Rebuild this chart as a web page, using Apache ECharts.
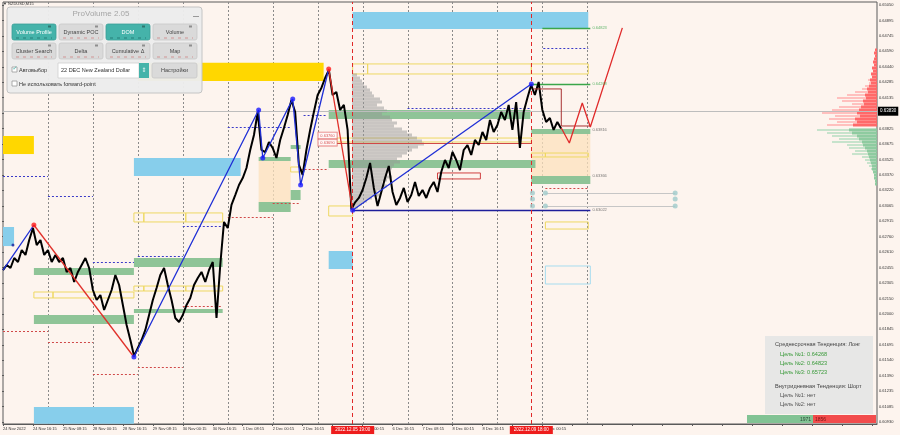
<!DOCTYPE html>
<html><head><meta charset="utf-8">
<script src="https://cdn.jsdelivr.net/npm/echarts/dist/echarts.min.js"></script>
<style>html,body{margin:0;padding:0;background:#fdf4ee;}#c{width:900px;height:435px;}</style>
</head><body><div id="c"></div>
<script>
// ---------------- DATA ----------------
const STEP_HOURS = 2; // price samples every 2 trading hours from 24 Nov 00:00
const price = [0.62431,0.62481,0.62451,0.62550,0.62510,0.62629,0.62580,0.62728,0.62846,0.62678,
0.62728,0.62580,0.62629,0.62510,0.62580,0.62510,0.62550,0.62412,0.62451,0.62313,
0.62412,0.62481,0.62550,0.62451,0.62234,0.62135,0.62184,0.62036,0.62135,0.62234,
0.62382,0.62283,0.62086,0.61888,0.61740,0.61582,0.61661,0.61740,0.61839,0.61987,
0.62135,0.62254,0.62382,0.62451,0.62283,0.62135,0.61957,0.61918,0.61987,0.62086,
0.62155,0.62283,0.62352,0.62412,0.62313,0.62431,0.62510,0.61957,0.62481,0.62906,
0.62846,0.63074,0.63172,0.63271,0.63340,0.63439,0.63617,0.63765,0.63992,0.63617,
0.63597,0.63696,0.63637,0.63538,0.63716,0.63834,0.63963,0.64111,0.63992,0.63469,
0.63370,0.63617,0.63815,0.63992,0.64160,0.64230,0.64328,0.64407,0.64160,0.64190,
0.64012,0.64062,0.63815,0.63030,0.63100,0.63143,0.63222,0.63340,0.63489,0.63242,
0.63064,0.63202,0.63340,0.63459,0.63202,0.63074,0.63143,0.63242,0.63103,0.63172,
0.63301,0.63163,0.63222,0.63143,0.63242,0.63301,0.63202,0.63400,0.63518,0.63439,
0.63597,0.63518,0.63419,0.63617,0.63666,0.63568,0.63716,0.63666,0.63795,0.63716,
0.63913,0.63795,0.63864,0.63992,0.63913,0.64062,0.63815,0.64091,0.63637,0.63992,
0.64131,0.64260,0.64160,0.64289,0.64012,0.63894,0.63933,0.63815,0.63894,0.63830];
const currentPrice = 0.63830;

const xLabels = ['24 Nov 2022','24 Nov 16:15','25 Nov 08:15','28 Nov 00:15','28 Nov 16:15','29 Nov 08:15',
 '30 Nov 00:15','30 Nov 16:15','1 Dec 08:15','2 Dec 00:15','2 Dec 16:15','5 Dec 08:15','6 Dec 00:15',
 '6 Dec 16:15','7 Dec 08:15','8 Dec 00:15','8 Dec 16:15','9 Dec 08:15','12 Dec 00:15'];
const yLabels = ['0.60930','0.61085','0.61235','0.61390','0.61540','0.61695','0.61845','0.62000','0.62150',
 '0.62305','0.62455','0.62610','0.62760','0.62915','0.63065','0.63220','0.63370','0.63525','0.63675',
 '0.63825','0.63980','0.64135','0.64285','0.64440','0.64590','0.64745','0.64895','0.65050'];
const gridHours = [24,48,72,96,120,144,168,192,216,240,264,288,312];
const sessionMarks = [[186.7,'2022.12.05 19:00'],[282.1,'2022.12.09 18:00']];

const blueZig1 = [[0,0.62431],[16.5,0.62876]];
const redZig1 = [[16.5,0.62876],[69.9,0.61572]];
const blueZig2 = [[69.9,0.61572],[136.5,0.64012],[138.7,0.63538],[154.7,0.64121],[158.9,0.63271],[173.9,0.64417]];
const redZig2 = [[173.9,0.64417],[186.7,0.63022]];
const blueZig3 = [[186.7,0.63022],[282.1,0.64268]];
const redPivots = [[16.5,0.62876],[173.9,0.64417]];
const bluePivots = [[69.9,0.61572],[136.5,0.64012],[138.7,0.63538],[154.7,0.64121],[158.9,0.63271],[186.7,0.63022],[282.1,0.64268]];
const smallPivots = [[5.3,0.62678]];
const forecast = [[298.1,0.63834],[302.4,0.63686],[309.3,0.64081],[313.6,0.63844],[330.7,0.64823]];
const stepLine = [[283.2,0.64220],[298.1,0.64220],[298.1,0.63854],[313.6,0.63854]];

// zones: [fromHour, toHour, priceA, priceB]
const blueZones = [[186.7,312.5,0.64980,0.64812],[69.9,126.9,0.63538,0.63360],[0,5.9,0.62856,0.62668],
 [173.9,186.7,0.62619,0.62441],[16.5,69.9,0.61078,0.60912]];
const goldZones = [[0,16.5,0.63755,0.63577],[72,171.2,0.64478,0.64299]];
const greenZones = [[16.5,69.9,0.62451,0.62382],[16.5,69.9,0.61987,0.61898],[69.9,117.3,0.62550,0.62461],
 [69.9,117.3,0.62046,0.62007],[136.5,153.6,0.63548,0.63508],[136.5,153.6,0.63103,0.63004],
 [153.6,158.9,0.63666,0.63627],[153.6,158.9,0.63222,0.63123],[173.9,281.6,0.64012,0.63923],
 [173.9,284.3,0.63518,0.63439],[282.1,313.6,0.63824,0.63775],[282.1,313.6,0.63360,0.63281]];
const tanZones = [[136.5,153.6,0.63508,0.63103],[282.1,313.6,0.63775,0.63360]];
const yellowBoxes = [[16.5,26.7,0.62214,0.62155],[26.7,69.9,0.62214,0.62155],
 [69.9,75.2,0.62273,0.62224],[75.2,97.6,0.62273,0.62224],[97.6,117.3,0.62273,0.62224],
 [69.9,75.2,0.62995,0.62906],[75.2,97.6,0.62995,0.62906],[97.6,117.3,0.62995,0.62906],
 [153.6,158.9,0.63449,0.63400],[186.7,194.7,0.64467,0.64368],[194.7,282.1,0.64467,0.64368],
 [282.1,312.5,0.64467,0.64368],[178.1,282.1,0.63735,0.63696],[173.9,186.7,0.63064,0.62965],
 [282.1,289.6,0.63587,0.63548],[289.6,312.5,0.63587,0.63548],[289.6,312.5,0.62906,0.62836]];
const lightBlueBoxes = [[289.6,313.6,0.62471,0.62293]];
const redBoxes = [[232,254.9,0.63390,0.63331]];

// horizontal levels: [fromHour, toHour, price]
const blueDotted = [[0,24,0.63360],[24,48,0.63163],[48,69.9,0.62510],[72,96,0.62570],[96,117.3,0.62866],
 [120,153.6,0.63844],[160.5,172.3,0.63963],[216,281.6,0.64032],[288.5,312.5,0.64625]];
const redDotted = [[0,24,0.61829],[24,48,0.61720],[48,72,0.61404],[72,96,0.61473],[96,117.3,0.62076],
 [120,144,0.62955],[144,158.9,0.63093],[158.9,173.9,0.63429],[289.6,312.5,0.63242]];
const redSolid = [[178.1,282.1,0.63686]];
const navySolid = [[186.7,313.6,0.63022]];
const greenTargets = [[282.1,313.6,0.64268],[288,313.6,0.64823]];
const graySolid = [[289.6,358.9,0.63192],[289.6,358.9,0.63064]];
const circles = [[282.7,0.63192],[282.7,0.63133],[282.7,0.63064],[289.6,0.63192],[289.6,0.63064],
 [358.9,0.63192],[358.9,0.63133],[358.9,0.63064]];
const greenTags = [[314.7,0.64823],[314.7,0.64268]];
const grayTags = [[314.7,0.63816],[314.7,0.63366],[314.7,0.63022]];
const redTags = [[173.3,0.63760,'0.63760'],[173.3,0.63690,'0.63690']];

// session volume profile (grey): price, volume
const profPrices = [0.64358,0.64328,0.64299,0.64269,0.64239,0.64210,0.64180,0.64151,0.64121,0.64091,
 0.64062,0.64032,0.64002,0.63973,0.63943,0.63913,0.63884,0.63854,0.63824,0.63795,0.63765,0.63735,
 0.63706,0.63676,0.63646,0.63617,0.63587,0.63557,0.63528,0.63498,0.63469,0.63439,0.63409,0.63380,
 0.63350,0.63321,0.63291,0.63261,0.63232,0.63202,0.63172,0.63143,0.63113,0.63084,0.63054];
const profVols = [5,8,10,12,15,18,20,22,28,30,25,32,35,30,38,40,45,42,50,55,60,65,70,72,66,60,55,50,
 45,48,42,40,38,35,40,35,30,35,30,25,28,20,15,10,6];

// DOM ladder: price, strong size, weak size
const askPrices = [0.64605,0.64575,0.64546,0.64516,0.64486,0.64457,0.64427,0.64397,0.64368,0.64338,
 0.64309,0.64279,0.64249,0.64220,0.64190,0.64160,0.64131,0.64101,0.64071,0.64042,0.64012,0.63983,
 0.63953,0.63923,0.63894,0.63864];
const askStrong = [2,3,2,3,4,3,5,4,6,5,7,6,8,10,9,12,11,14,13,16,18,20,17,22,20,24];
const askWeak = [2,3,2,3,4,3,5,4,6,5,9,8,12,15,22,30,40,35,25,38,45,55,42,48,40,50];
const bidPrices = [0.63815,0.63785,0.63755,0.63726,0.63696,0.63666,0.63637,0.63607,0.63577,0.63548,
 0.63518,0.63489,0.63459,0.63429,0.63400,0.63370,0.63340,0.63310,0.63281];
const bidStrong = [28,25,20,18,15,14,12,10,9,8,7,6,5,5,4,3,3,2,2];
const bidWeak = [60,50,45,38,45,30,28,22,25,15,12,10,8,6,4,3,3,2,2];

const buyVolume = 1971, sellVolume = 1856;

// ---------------- CHART ----------------
const FONT = 'Liberation Sans';
const chart = echarts.init(document.getElementById('c'), null, {renderer:'canvas'});
const YMIN = 0.60910, YMAX = 0.65079, XMAX = 466.67;

function rectSeries(name, data, style, z){
  return {type:'custom', name, z, silent:true, clip:true, data, xAxisIndex:0, yAxisIndex:0,
    encode:{x:[0,1], y:[2,3]},
    renderItem:(params, api)=>{
      const a = api.coord([api.value(0), api.value(2)]);
      const b = api.coord([api.value(1), api.value(3)]);
      return {type:'rect', shape:{x:Math.min(a[0],b[0]), y:Math.min(a[1],b[1]),
        width:Math.abs(b[0]-a[0]), height:Math.abs(b[1]-a[1])}, style:Object.assign({}, style)};
    }};
}
function segSeries(name, data, style, z){
  return {type:'custom', name, z, silent:true, clip:true, data, xAxisIndex:0, yAxisIndex:0,
    encode:{x:[0,1], y:2},
    renderItem:(params, api)=>{
      const a = api.coord([api.value(0), api.value(2)]);
      const b = api.coord([api.value(1), api.value(2)]);
      return {type:'line', shape:{x1:a[0], y1:Math.round(a[1])+0.5, x2:b[0], y2:Math.round(b[1])+0.5},
        style:Object.assign({fill:null}, style)};
    }};
}
function lineSeries(name, data, color, width, z){
  return {type:'line', name, data, z, symbol:'none', silent:true, animation:false,
    lineStyle:{color, width}, xAxisIndex:0, yAxisIndex:0};
}
function domSeries(name, prices, strong, weak, cStrong, cWeak){
  return {type:'custom', name, z:3, silent:true, xAxisIndex:2, yAxisIndex:2,
    data: prices.map((p,i)=>[p, strong[i], weak[i]]),
    encode:{x:[1,2], y:0},
    renderItem:(params, api)=>{
      const p = api.value(0);
      const r = api.coord([0,p]);
      const w = api.coord([api.value(2),p]);
      const s = api.coord([api.value(1),p]);
      return {type:'group', children:[
        {type:'rect', shape:{x:w[0], y:r[1]-1, width:r[0]-w[0], height:2}, style:{fill:cWeak}},
        {type:'rect', shape:{x:s[0], y:r[1]-1.5, width:r[0]-s[0], height:3}, style:{fill:cStrong}}
      ]};
    }};
}

const priceData = price.map((p,i)=>[i*STEP_HOURS, p]);

const series = [
  {type:'custom', name:'grid', z:1, silent:true, data:gridHours, xAxisIndex:0, yAxisIndex:0,
   encode:{x:0},
   renderItem:(params, api)=>{
     const cs = params.coordSys;
     const x = Math.round(api.coord([api.value(0), YMIN])[0])+0.5;
     return {type:'line', shape:{x1:x, y1:cs.y, x2:x, y2:cs.y+cs.height},
       style:{stroke:'#8a8a8a', lineWidth:1, lineDash:[2,2]}};
   }},
  rectSeries('tan', tanZones, {fill:'rgba(252,226,188,0.75)'}, 2),
  rectSeries('blue', blueZones, {fill:'#87ceeb'}, 2),
  rectSeries('gold', goldZones, {fill:'#ffd700'}, 2),
  rectSeries('green', greenZones, {fill:'#8fc497'}, 2),
  rectSeries('yellowBox', yellowBoxes, {fill:null, stroke:'#eed862', lineWidth:1}, 3),
  rectSeries('lightBlueBox', lightBlueBoxes, {fill:null, stroke:'#a6dcef', lineWidth:1}, 3),
  rectSeries('redBox', redBoxes, {fill:null, stroke:'#d04040', lineWidth:1}, 3),
  {type:'custom', name:'profile', z:3, silent:true, xAxisIndex:3, yAxisIndex:3,
   data: profPrices.map((p,i)=>[p, profVols[i]]), encode:{x:1, y:0},
   renderItem:(params, api)=>{
     const a = api.coord([0, api.value(0)]);
     const b = api.coord([api.value(1), api.value(0)]);
     return {type:'rect', shape:{x:a[0], y:a[1]-1.5, width:b[0]-a[0], height:3},
       style:{fill:'rgba(150,150,150,0.5)'}};
   }},
  domSeries('ask', askPrices, askStrong, askWeak, 'rgba(255,95,95,0.9)', 'rgba(255,170,170,0.7)'),
  domSeries('bid', bidPrices, bidStrong, bidWeak, 'rgba(135,200,155,0.9)', 'rgba(175,220,190,0.7)'),
  segSeries('blueDotted', blueDotted, {stroke:'#3a3ac8', lineWidth:1, lineDash:[2,2]}, 4),
  segSeries('redDotted', redDotted, {stroke:'#d04848', lineWidth:1, lineDash:[2,2]}, 4),
  segSeries('grayLevels', graySolid, {stroke:'#c6c6c6', lineWidth:1}, 4),
  segSeries('redSolid', redSolid, {stroke:'#d04848', lineWidth:1}, 4),
  segSeries('navy', navySolid, {stroke:'#1e1e9a', lineWidth:1.3}, 4),
  segSeries('targets', greenTargets, {stroke:'#3aa64a', lineWidth:1.3}, 4),
  {type:'line', name:'price', data:priceData, z:5, symbol:'none', silent:true,
   lineStyle:{color:'#000', width:2}, xAxisIndex:0, yAxisIndex:0,
   markLine:{silent:true, symbol:['none','none'], animation:false,
     data:[
       {yAxis:currentPrice, lineStyle:{color:'#bdbdbd', type:'solid', width:1},
        label:{show:true, position:'end', formatter:currentPrice.toFixed(5), backgroundColor:'#000',
          color:'#fff', fontSize:4.5, fontFamily:FONT, padding:[2,2], distance:1}},
       ...sessionMarks.map(m=>({xAxis:m[0], lineStyle:{color:'#e02828', type:[4,3], width:1},
        label:{show:true, position:'start', formatter:m[1], backgroundColor:'#ee1c1c', color:'#fff',
          fontSize:4.5, fontFamily:FONT, padding:[1.5,4], distance:2}}))
     ]}},
  lineSeries('stepBox', stepLine, '#a83232', 1, 5),
  lineSeries('blueZig1', blueZig1, '#1f2fd6', 1.3, 6),
  lineSeries('redZig1', redZig1, '#e0302a', 1.3, 6),
  lineSeries('blueZig2', blueZig2, '#1f2fd6', 1.3, 6),
  lineSeries('redZig2', redZig2, '#e0302a', 1.3, 6),
  lineSeries('blueZig3', blueZig3, '#1f2fd6', 1.3, 6),
  lineSeries('forecast', forecast, '#e02a2a', 1.3, 6),
  {type:'scatter', name:'redPivots', data:redPivots, z:7, symbolSize:5, itemStyle:{color:'#ff1a1a'}, silent:true},
  {type:'scatter', name:'bluePivots', data:bluePivots, z:7, symbolSize:5, itemStyle:{color:'#1a1aff'}, silent:true},
  {type:'scatter', name:'smallPivots', data:smallPivots, z:7, symbolSize:3, itemStyle:{color:'#1a1a9a'}, silent:true},
  {type:'scatter', name:'circles', data:circles, z:7, symbolSize:5, itemStyle:{color:'#9fcaca'}, silent:true},
  {type:'scatter', name:'greenTags', data:greenTags, z:8, symbolSize:0, silent:true,
   label:{show:true, position:'right', distance:0, formatter:p=>p.value[1].toFixed(5), color:'#3aa64a', fontSize:4, fontFamily:FONT}},
  {type:'scatter', name:'grayTags', data:grayTags, z:8, symbolSize:0, silent:true,
   label:{show:true, position:'right', distance:0, formatter:p=>p.value[1].toFixed(5), color:'#555', fontSize:4, fontFamily:FONT}},
  {type:'scatter', name:'redTags', data:redTags, z:8, symbolSize:0, silent:true,
   label:{show:true, position:'inside', formatter:p=>p.value[2], color:'#d02020', fontSize:4, fontFamily:FONT,
     backgroundColor:'#fff', borderColor:'#e06060', borderWidth:0.8, padding:[1,2]}}
];

// ---- panel / info graphics ----
const TEAL = '#45b3aa';
const graphic = [];
graphic.push({type:'text', z:50, style:{x:3, y:4, text:'▼ NZDUSD,M15', fill:'#333', fontSize:4, fontFamily:FONT, verticalAlign:'middle'}});
graphic.push({type:'rect', z:90, shape:{x:7, y:7, width:195, height:86, r:3}, style:{fill:'rgba(236,236,236,0.97)', stroke:'#c4c4c4', lineWidth:1}});
graphic.push({type:'text', z:91, style:{x:101, y:14, text:'ProVolume 2.05', fill:'#a5a5a5', fontSize:8, fontFamily:FONT, align:'center', verticalAlign:'middle'}});
graphic.push({type:'line', z:91, shape:{x1:193, y1:16.5, x2:199, y2:16.5}, style:{stroke:'#999', lineWidth:1}});
const btns = [['Volume Profile',12,24,true],['Dynamic POC',59,24,false],['DOM',106,24,true],['Volume',153,24,false],
 ['Cluster Search',12,43,false],['Delta',59,43,false],['Cumulative Δ',106,43,false],['Map',153,43,false]];
btns.forEach(b=>{
  const [t,x,y,on] = b;
  graphic.push({type:'rect', z:91, shape:{x, y, width:44, height:16, r:2},
    style:{fill:on?TEAL:'#dadada', stroke:on?'#3a9f97':'#c8c8c8', lineWidth:0.8}});
  graphic.push({type:'text', z:92, style:{x:x+22, y:y+8.5, text:t, fill:on?'#fff':'#444', fontSize:5.5, fontFamily:FONT, align:'center', verticalAlign:'middle'}});
  graphic.push({type:'line', z:92, shape:{x1:x+4, y1:y+14, x2:x+40, y2:y+14}, style:{stroke:on?'rgba(0,60,60,0.45)':'rgba(200,80,80,0.5)', lineWidth:1, lineDash:[3,4]}});
  graphic.push({type:'rect', z:92, shape:{x:x+36, y:y+1.5, width:3, height:2}, style:{fill:'rgba(0,0,0,0.35)'}});
});
graphic.push({type:'rect', z:91, shape:{x:12, y:67, width:5, height:5}, style:{fill:'#fff', stroke:'#999', lineWidth:0.8}});
graphic.push({type:'text', z:92, style:{x:12.5, y:68.5, text:'✓', fill:TEAL, fontSize:6, fontFamily:'DejaVu Sans', verticalAlign:'middle'}});
graphic.push({type:'text', z:92, style:{x:19, y:70, text:'Автовыбор', fill:'#333', fontSize:5.5, fontFamily:FONT, verticalAlign:'middle'}});
graphic.push({type:'rect', z:91, shape:{x:58, y:63, width:81, height:15}, style:{fill:'#fff', stroke:'#cfcfcf', lineWidth:0.8}});
graphic.push({type:'text', z:92, style:{x:61, y:70.5, text:'22 DEC New Zealand Dollar', fill:'#333', fontSize:5.5, fontFamily:FONT, verticalAlign:'middle'}});
graphic.push({type:'rect', z:91, shape:{x:139, y:63, width:10, height:15}, style:{fill:TEAL}});
graphic.push({type:'text', z:92, style:{x:144, y:70.5, text:'⇕', fill:'#e8f6f5', fontSize:6, fontFamily:'DejaVu Sans', align:'center', verticalAlign:'middle'}});
graphic.push({type:'rect', z:91, shape:{x:152, y:63, width:45, height:15, r:2}, style:{fill:'#dadada', stroke:'#c8c8c8', lineWidth:0.8}});
graphic.push({type:'text', z:92, style:{x:174.5, y:70.5, text:'Настройки', fill:'#444', fontSize:5.5, fontFamily:FONT, align:'center', verticalAlign:'middle'}});
graphic.push({type:'rect', z:91, shape:{x:12, y:81, width:5, height:5}, style:{fill:'#fff', stroke:'#999', lineWidth:0.8}});
graphic.push({type:'text', z:92, style:{x:19, y:84, text:'Не использовать forward-point', fill:'#333', fontSize:5.5, fontFamily:FONT, verticalAlign:'middle'}});

// info box
graphic.push({type:'rect', z:90, shape:{x:765, y:336, width:108, height:78}, style:{fill:'rgba(229,229,229,0.93)'}});
const info = [['Среднесрочная Тенденция: Лонг',775,344,'#444'],['Цель №1: 0.64268',780,354,'#3a9a3a'],
 ['Цель №2: 0.64823',780,363,'#3a9a3a'],['Цель №3: 0.65723',780,372,'#3a9a3a'],
 ['Внутридневная Тенденция: Шорт',775,386,'#444'],['Цель №1: нет',780,395,'#555'],['Цель №2: нет',780,404,'#555']];
info.forEach(t=>graphic.push({type:'text', z:91, style:{x:t[1], y:t[2], text:t[0], fill:t[3], fontSize:5.6, fontFamily:FONT, verticalAlign:'middle'}}));
// buy / sell volume bar
const barTotal = buyVolume + sellVolume, barX = 747, barW = 129;
const buyW = Math.round(barW * buyVolume / barTotal);
graphic.push({type:'rect', z:90, shape:{x:barX, y:415, width:buyW, height:8}, style:{fill:'#82c394'}});
graphic.push({type:'rect', z:90, shape:{x:barX+buyW, y:415, width:barW-buyW, height:8}, style:{fill:'#f24c4c'}});
graphic.push({type:'text', z:91, style:{x:barX+buyW-2, y:419.5, text:String(buyVolume), fill:'#2d4a35', fontSize:5, fontFamily:FONT, align:'right', verticalAlign:'middle'}});
graphic.push({type:'text', z:91, style:{x:barX+buyW+2, y:419.5, text:String(sellVolume), fill:'#7a1414', fontSize:5, fontFamily:FONT, verticalAlign:'middle'}});

const option = {
  animation:false,
  backgroundColor:'#fdf4ee',
  grid:[
    {left:2, right:23, top:2, bottom:11, show:true, borderColor:'#5a5a5a', borderWidth:1},
    {left:2, right:23, top:5, bottom:13, show:false},
    {left:797, right:23, top:2, bottom:11, show:false},
    {left:352, width:100, top:2, bottom:11, show:false}
  ],
  xAxis:[
    {type:'value', gridIndex:0, min:0, max:XMAX, interval:16, splitLine:{show:false},
     axisLine:{show:true, lineStyle:{color:'#5a5a5a'}},
     axisTick:{show:true, length:2, lineStyle:{color:'#5a5a5a'}},
     axisLabel:{show:true, formatter:v=>xLabels[Math.round(v/16)]||'', align:'left', margin:3,
       fontSize:4, color:'#333', fontFamily:FONT, showMaxLabel:false}},
    {type:'value', gridIndex:1, show:false, min:0, max:1},
    {type:'value', gridIndex:2, show:false, min:0, max:80, inverse:true},
    {type:'value', gridIndex:3, show:false, min:0, max:100}
  ],
  yAxis:[
    {type:'value', gridIndex:0, min:YMIN, max:YMAX, show:false},
    {type:'category', gridIndex:1, data:yLabels, boundaryGap:false, position:'right',
     axisLine:{show:false}, axisTick:{show:true, length:2, lineStyle:{color:'#5a5a5a'}},
     splitLine:{show:false},
     axisLabel:{show:true, fontSize:4, color:'#333', fontFamily:FONT, margin:2, interval:0}},
    {type:'value', gridIndex:2, min:YMIN, max:YMAX, show:false},
    {type:'value', gridIndex:3, min:YMIN, max:YMAX, show:false}
  ],
  series,
  graphic
};
chart.setOption(option);
</script></body></html>
